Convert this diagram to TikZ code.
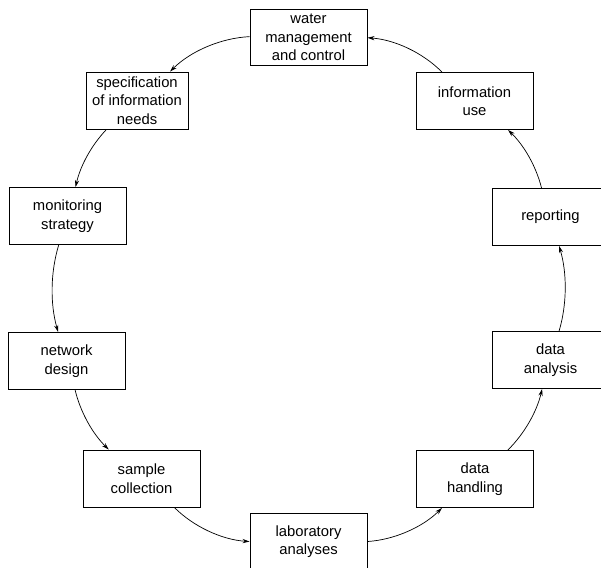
\documentclass[tikz,border=0pt]{standalone}
\usepackage{fontspec}
\setmainfont{Liberation Sans}
\usetikzlibrary{arrows.meta}
\begin{document}
\begin{tikzpicture}[x=1pt,y=1pt,
  stage/.style={draw, line width=0.9pt, fill=white, inner sep=0pt,
    minimum width=117pt, minimum height=57pt, align=center,
    font=\fontsize{14.8}{18.5}\selectfont},
  flow/.style={line width=0.7pt, looseness=0.85,
    -{Stealth[length=7pt,width=4.2pt]}}]
\useasboundingbox (0,0) rectangle (601,567);
% stages of the monitoring cycle, placed round a circle
\node[stage, minimum height=56pt] (water) at (308.5,529.5) {water\\management\\and control};
\node[stage, minimum width=102pt] (spec) at (137,466.5) {specification\\of information\\needs};
\node[stage] (strategy) at (67.5,351) {monitoring\\strategy};
\node[stage] (network) at (66.5,206) {network\\design};
\node[stage] (sample) at (141.5,88.5) {sample\\collection};
\node[stage] (lab) at (308.5,25.5) {laboratory\\analyses};
\node[stage] (handling) at (475,88) {data\\handling};
\node[stage] (analysis) at (550.5,207) {data\\analysis};
\node[stage] (reporting) at (550.5,350) {reporting};
\node[stage] (use) at (474.5,466) {information\\use};
% arcs of the cycle
\draw[flow] (water) to[bend right=21] (spec);
\draw[flow] (spec) to[bend right=15.5] (strategy);
\draw[flow] (strategy) to[bend right=16.5] (network);
\draw[flow] (network) to[bend right=16] (sample);
\draw[flow] (sample) to[bend right=20.7] (lab);
\draw[flow] (lab) to[bend right=20.6] (handling);
\draw[flow] (handling) to[bend right=16.2] (analysis);
\draw[flow] (analysis) to[bend right=16.5] (reporting);
\draw[flow] (reporting) to[bend right=16] (use);
\draw[flow] (use) to[bend right=20.7] (water);
\end{tikzpicture}
\end{document}
